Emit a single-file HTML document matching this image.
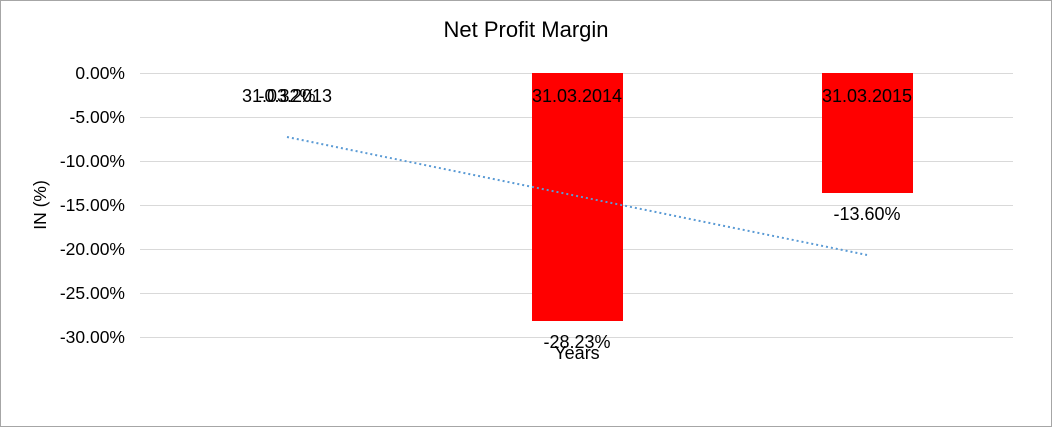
<!DOCTYPE html>
<html><head><style>body{margin:0;background:#fff}</style></head><body>
<svg width="1052" height="427" xmlns="http://www.w3.org/2000/svg" font-family="Liberation Sans, Arial, sans-serif">
<rect x="0.5" y="0.5" width="1051" height="426" fill="#fff" stroke="#a6a6a6"/>
<text x="526" y="37" font-size="22" text-anchor="middle" fill="#000">Net Profit Margin</text>
<g stroke="#d9d9d9" stroke-width="1">
<line x1="140" y1="73.5" x2="1013" y2="73.5"/>
<line x1="140" y1="117.5" x2="1013" y2="117.5"/>
<line x1="140" y1="161.5" x2="1013" y2="161.5"/>
<line x1="140" y1="205.5" x2="1013" y2="205.5"/>
<line x1="140" y1="249.5" x2="1013" y2="249.5"/>
<line x1="140" y1="293.5" x2="1013" y2="293.5"/>
<line x1="140" y1="337.5" x2="1013" y2="337.5"/>
</g>
<g font-size="17.5" text-anchor="end" fill="#000">
<text x="125" y="79">0.00%</text>
<text x="125" y="123">-5.00%</text>
<text x="125" y="167">-10.00%</text>
<text x="125" y="211">-15.00%</text>
<text x="125" y="255">-20.00%</text>
<text x="125" y="299">-25.00%</text>
<text x="125" y="343">-30.00%</text>
</g>
<text transform="translate(46,205) rotate(-90)" font-size="17.5" text-anchor="middle">IN (%)</text>
<rect x="532" y="73" width="91" height="248" fill="#ff0000"/>
<rect x="822" y="73" width="91" height="120" fill="#ff0000"/>
<line x1="287" y1="137" x2="867" y2="255" stroke="#5b9bd5" stroke-width="2" stroke-dasharray="2,3"/>
<g font-size="18" text-anchor="middle" fill="#000">
<text x="287" y="102">31.03.2013</text>
<text x="287" y="102">-0.32%</text>
<text x="577" y="102">31.03.2014</text>
<text x="867" y="102">31.03.2015</text>
<text x="867" y="220">-13.60%</text>
<text x="577" y="348">-28.23%</text>
<text x="577" y="359">Years</text>
</g>
</svg>
</body></html>
